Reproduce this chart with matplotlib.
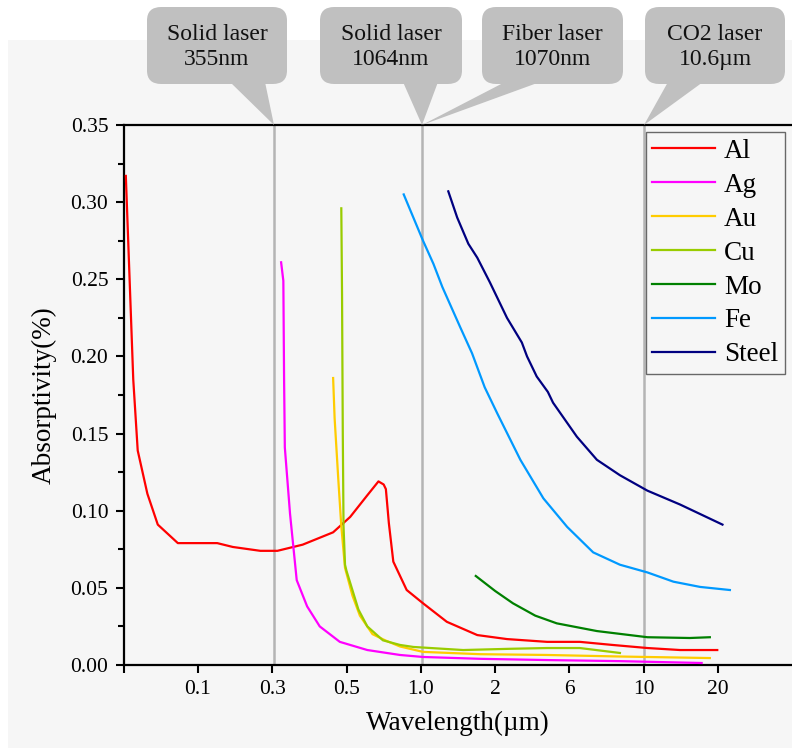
import matplotlib
matplotlib.use("Agg")
import matplotlib.pyplot as plt
from matplotlib.patches import FancyBboxPatch, Polygon, Rectangle
import numpy as np

plt.rcParams['font.family'] = 'serif'
plt.rcParams['font.serif'] = ['Liberation Serif', 'DejaVu Serif']

# x axis is categorical: tick labels sit at positions 1..8
tick_pos = [0, 1, 2, 3, 4, 5, 6, 7, 8]
tick_labels = ['', '0.1', '0.3', '0.5', '1.0', '2', '6', '10', '20']

# curves (x in tick-position units, y absorptivity)
al_x = [0.03, 0.13, 0.19, 0.32, 0.46, 0.73, 1.26, 1.47, 1.84, 2.07, 2.41, 2.82, 3.05,
        3.28, 3.43, 3.50, 3.53, 3.57, 3.63, 3.81, 4.03, 4.35, 4.76, 5.16, 5.70, 6.14,
        6.58, 7.05, 7.49, 7.99]
al_y = [0.317, 0.185, 0.139, 0.111, 0.091, 0.079, 0.079, 0.0765, 0.074, 0.074, 0.078,
        0.086, 0.096, 0.110, 0.119, 0.117, 0.114, 0.092, 0.067, 0.0486, 0.040, 0.028,
        0.0194, 0.0168, 0.015, 0.015, 0.013, 0.011, 0.0097, 0.0097]

ag_x = [2.12, 2.15, 2.16, 2.17, 2.24, 2.33, 2.47, 2.64, 2.91, 3.28, 3.72, 4.03, 4.80,
        5.70, 6.68, 7.78]
ag_y = [0.261, 0.249, 0.185, 0.141, 0.098, 0.055, 0.038, 0.025, 0.015, 0.0097, 0.0065,
        0.0052, 0.0040, 0.0032, 0.0025, 0.0013]

au_x = [2.82, 2.84, 2.89, 2.93, 2.98, 3.08, 3.18, 3.35, 3.52, 3.72, 4.03, 4.80, 5.70,
        6.68, 7.89]
au_y = [0.186, 0.16, 0.12, 0.09, 0.063, 0.045, 0.032, 0.020, 0.016, 0.012, 0.0085,
        0.007, 0.0065, 0.0055, 0.0045]

cu_x = [2.93, 2.94, 2.95, 2.96, 2.98, 3.00, 3.16, 3.28, 3.49, 3.72, 3.90, 4.57, 5.20,
        5.70, 6.14, 6.68]
cu_y = [0.296, 0.24, 0.15, 0.09, 0.065, 0.061, 0.036, 0.025, 0.016, 0.013, 0.0117,
        0.0097, 0.0105, 0.011, 0.011, 0.0078]

mo_x = [4.74, 5.00, 5.24, 5.54, 5.83, 6.37, 7.05, 7.62, 7.89]
mo_y = [0.0577, 0.048, 0.040, 0.032, 0.027, 0.022, 0.018, 0.0175, 0.018]

fe_x = [3.77, 4.03, 4.17, 4.29, 4.53, 4.69, 4.86, 5.03, 5.34, 5.65, 5.97, 6.32, 6.68,
        7.05, 7.40, 7.76, 8.16]
fe_y = [0.305, 0.275, 0.260, 0.245, 0.219, 0.202, 0.180, 0.163, 0.133, 0.108, 0.0895,
        0.073, 0.065, 0.060, 0.054, 0.0506, 0.0486]

steel_x = [4.37, 4.49, 4.64, 4.76, 4.93, 5.16, 5.36, 5.43, 5.56, 5.71, 5.78, 6.10, 6.37,
           6.68, 7.05, 7.49, 8.06]
steel_y = [0.307, 0.290, 0.273, 0.264, 0.248, 0.225, 0.209, 0.200, 0.187, 0.177, 0.170,
           0.148, 0.133, 0.123, 0.113, 0.104, 0.091]

series = [
    ('Al', al_x, al_y, '#ff0000'),
    ('Ag', ag_x, ag_y, '#ff00ff'),
    ('Au', au_x, au_y, '#ffcc00'),
    ('Cu', cu_x, cu_y, '#99cc00'),
    ('Mo', mo_x, mo_y, '#008000'),
    ('Fe', fe_x, fe_y, '#0099ff'),
    ('Steel', steel_x, steel_y, '#000080'),
]

laser_pos = [2.02, 4.02, 7.0]
callout_texts = ['Solid laser\n355nm', 'Solid laser\n1064nm', 'Fiber laser\n1070nm',
                 'CO2 laser\n10.6\u00b5m']

W, H = 792, 750
fig = plt.figure(figsize=(W / 100, H / 100), dpi=100, facecolor='white')


def fx(px):
    return px / W


def fy(py):
    return 1 - py / H


# light gray backdrop like the source image
fig.patches.append(Rectangle((fx(8), fy(748)), 1 - fx(8), fy(40) - fy(748),
                             transform=fig.transFigure, facecolor='#f6f6f6',
                             edgecolor='none', zorder=-5))

ax = fig.add_axes([fx(123.6), fy(665), 668.7 / W, 540 / H])
ax.set_facecolor('none')

for d in ['left', 'bottom', 'top']:
    ax.spines[d].set_linewidth(1.6)
    ax.spines[d].set_color('black')
ax.spines['right'].set_visible(False)

for p in laser_pos:
    ax.axvline(p, color='#b4b4b4', lw=1.8, zorder=1)

for name, xs, ys, c in series:
    ax.plot(xs, ys, color=c, lw=1.6, label=name, zorder=3)

ax.set_xlim(0, 9)
ax.set_ylim(0, 0.35)
ax.set_xticks(tick_pos)
ax.set_xticklabels(tick_labels)
ax.set_yticks(np.arange(0, 0.351, 0.05))
ax.set_yticks(np.arange(0.025, 0.35, 0.05), minor=True)
ax.yaxis.set_major_formatter(matplotlib.ticker.FormatStrFormatter('%.2f'))
ax.tick_params(axis='both', which='major', direction='out', length=6, width=1.5,
               labelsize=15.5, pad=5)
ax.tick_params(axis='y', which='minor', direction='out', length=4, width=1.5)

ax.set_xlabel('Wavelength(\u00b5m)', fontsize=19.5, labelpad=8)
ax.set_ylabel('Absorptivity(%)', fontsize=19.5, labelpad=10)

leg = ax.legend(loc='upper right', bbox_to_anchor=(fx(785), fy(132)),
                bbox_transform=fig.transFigure, fontsize=19.5, frameon=True,
                fancybox=False, edgecolor='#444444', facecolor='none',
                handlelength=2.3, handletextpad=0.35, labelspacing=0.33,
                borderpad=0.25, borderaxespad=0)
leg.get_frame().set_linewidth(1.0)

# callout bubbles above the plot
boxes = [(147, 287), (320, 462), (482, 623), (645, 785)]
pointers = [
    [(230, 82), (265, 82), (274, 125)],
    [(403, 82), (438, 82), (422, 125)],
    [(505, 82), (540, 82), (422, 125)],
    [(668, 82), (703, 82), (644, 125)],
]
bubble = '#c0c0c0'
for (x0, x1), ptr, txt in zip(boxes, pointers, callout_texts):
    poly = Polygon([(fx(a), fy(b)) for a, b in ptr], closed=True,
                   transform=fig.transFigure, facecolor=bubble, edgecolor='none',
                   zorder=5)
    fig.patches.append(poly)
    box = FancyBboxPatch((fx(x0), fy(84)), fx(x1) - fx(x0), fy(7) - fy(84),
                         boxstyle='round,pad=0,rounding_size=0.018',
                         transform=fig.transFigure, facecolor=bubble,
                         edgecolor='none', zorder=5)
    fig.patches.append(box)
    fig.text(fx((x0 + x1) / 2), fy(47), txt, ha='center', va='center',
             fontsize=17, linespacing=1.25, color='#111111', zorder=6)

fig.savefig('out.png', dpi=100, facecolor=fig.get_facecolor())
